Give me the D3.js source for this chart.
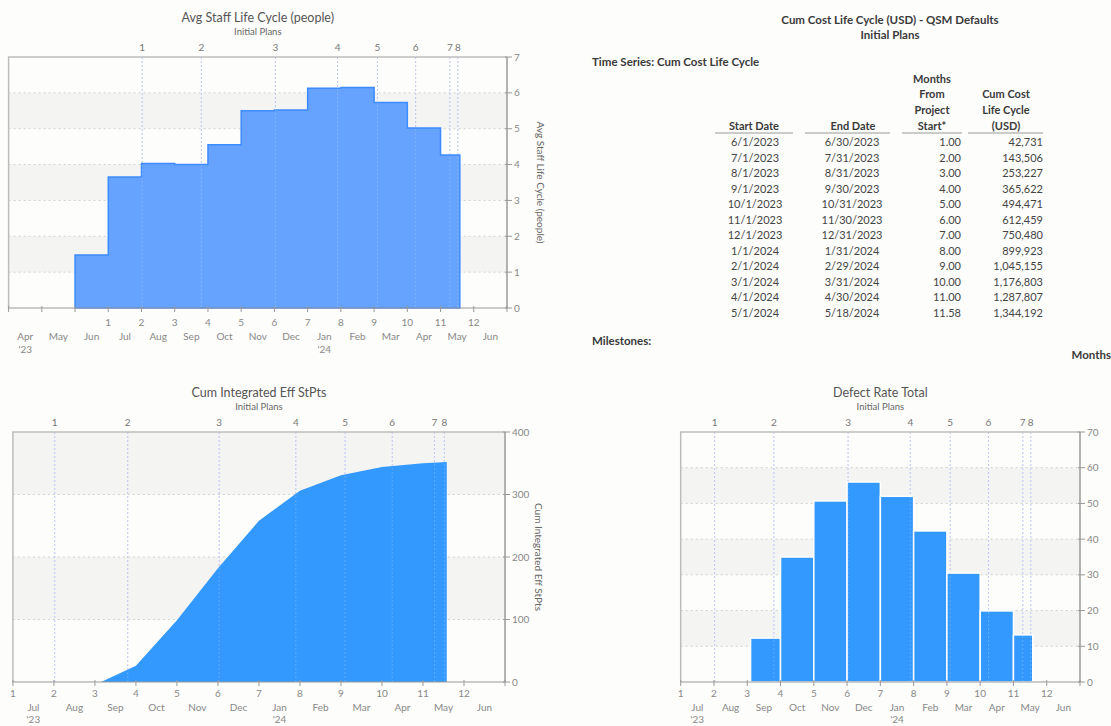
<!DOCTYPE html>
<html><head><meta charset="utf-8">
<script src="https://cdn.jsdelivr.net/npm/d3@7"></script>
<style>
html,body{margin:0;padding:0;background:#fdfdfb;}
svg{display:block;font-family:Lato,"Open Sans",sans-serif;}
</style></head><body>
<svg id="c" width="1111" height="726"></svg>
<script>
// ---------- data ----------
const milestones = [2.02, 3.8, 6.03, 7.9, 9.1, 10.25, 11.28, 11.52];
const milestoneLabels = ["1","2","3","4","5","6","7","8"];

const staffEnd = [1,2,3,4,5,6,7,8,9,10,11,11.58];
const staffValues = [1.48,3.65,4.03,4.0,4.55,5.5,5.52,6.13,6.15,5.73,5.02,4.27];

const effMonths = [3.15,4,5,6,7,8,9,10,11,11.58];
const effValues = [0,26,99,182,258,306,331,344,350,352];

const defectStart = [3.1,4,5,6,7,8,9,10,11];
const defectEnd = [4,5,6,7,8,9,10,11,11.58];
const defectValues = [12.3,35,50.7,56,52,42.3,30.5,19.9,13.2];

const monthsA = ["Apr","May","Jun","Jul","Aug","Sep","Oct","Nov","Dec","Jan","Feb","Mar","Apr","May","Jun"];
const monthsB = ["Jul","Aug","Sep","Oct","Nov","Dec","Jan","Feb","Mar","Apr","May","Jun"];

const startDates = ["6/1/2023","7/1/2023","8/1/2023","9/1/2023","10/1/2023","11/1/2023","12/1/2023","1/1/2024","2/1/2024","3/1/2024","4/1/2024","5/1/2024"];
const endDates = ["6/30/2023","7/31/2023","8/31/2023","9/30/2023","10/31/2023","11/30/2023","12/31/2023","1/31/2024","2/29/2024","3/31/2024","4/30/2024","5/18/2024"];
const monthsFromStart = ["1.00","2.00","3.00","4.00","5.00","6.00","7.00","8.00","9.00","10.00","11.00","11.58"];
const cumCost = ["42,731","143,506","253,227","365,622","494,471","612,459","750,480","899,923","1,045,155","1,176,803","1,287,807","1,344,192"];

// ---------- drawing ----------
const svg = d3.select("#c");
const AX = 10;

function panel(cfg){
  const g = svg.append("g");
  const x = d3.scaleLinear().domain(cfg.xDomain).range([cfg.left, cfg.right]);
  const y = d3.scaleLinear().domain(cfg.yDomain).range([cfg.bottom, cfg.top]);
  const yt = d3.range(cfg.yDomain[0], cfg.yDomain[1] + cfg.yStep/2, cfg.yStep);
  // bands
  for (let i = 1; i + 1 < yt.length; i += 2) {
    g.append("rect").attr("x", cfg.left).attr("width", cfg.right - cfg.left)
      .attr("y", y(yt[i+1])).attr("height", y(yt[i]) - y(yt[i+1]))
      .attr("fill", "#f4f4f2");
  }
  // grid
  g.selectAll(".gl").data(yt.slice(1, -1)).join("line")
    .attr("x1", cfg.left).attr("x2", cfg.right)
    .attr("y1", d => y(d)).attr("y2", d => y(d))
    .attr("stroke", "#d2d2d2").attr("stroke-dasharray", "2,3");
  // milestones
  g.selectAll(".ms").data(milestones).join("line")
    .attr("x1", d => x(d)).attr("x2", d => x(d))
    .attr("y1", cfg.top).attr("y2", cfg.bottom)
    .attr("stroke", "#c0c4f2").attr("stroke-dasharray", "2,2");
  // marks
  cfg.draw(g, x, y);
  // milestones over marks (faint)
  g.selectAll(".ms2").data(milestones).join("line")
    .attr("x1", d => x(d)).attr("x2", d => x(d))
    .attr("y1", cfg.top).attr("y2", cfg.bottom)
    .attr("stroke", "#c8d8ff").attr("stroke-opacity", 0.3).attr("stroke-dasharray", "2,2");
  g.selectAll(".mt").data(milestones).join("text")
    .attr("x", d => x(d)).attr("y", cfg.top - 6)
    .attr("text-anchor", "middle").attr("font-size", AX).attr("fill", "#777")
    .text((d, i) => milestoneLabels[i]);
  // frame
  g.append("path").attr("d", `M${cfg.left},${cfg.bottom}V${cfg.top}H${cfg.right}`)
    .attr("fill", "none").attr("stroke", "#bdbdbd").attr("stroke-width", 1.5);
  // bottom axis
  g.append("line").attr("x1", cfg.left).attr("x2", cfg.right)
    .attr("y1", cfg.bottom).attr("y2", cfg.bottom).attr("stroke", "#9a9a9a").attr("stroke-width", 1.2);
  const xt = d3.range(Math.ceil(cfg.xDomain[0]), cfg.xDomain[1] + 0.5, 1);
  g.selectAll(".xt").data(xt).join("line")
    .attr("x1", d => x(d)).attr("x2", d => x(d))
    .attr("y1", cfg.bottom - 2).attr("y2", cfg.bottom + 4).attr("stroke", "#9a9a9a");
  const [o1, o2, o3] = cfg.labelOffsets;
  g.selectAll(".xn").data(xt.filter(d => d >= 1 && d <= 12)).join("text")
    .attr("x", d => x(d)).attr("y", cfg.bottom + o1)
    .attr("text-anchor", "middle").attr("font-size", AX).attr("fill", "#888").text(d => d);
  g.selectAll(".xm").data(cfg.months).join("text")
    .attr("x", (d, i) => x(cfg.xDomain[0] + i + 0.5)).attr("y", cfg.bottom + o2)
    .attr("text-anchor", "middle").attr("font-size", AX).attr("fill", "#888").text(d => d);
  cfg.years.forEach(([i, t]) => {
    g.append("text").attr("x", x(cfg.xDomain[0] + i + 0.5)).attr("y", cfg.bottom + o3)
      .attr("text-anchor", "middle").attr("font-size", AX).attr("fill", "#888").text(t);
  });
  // right axis
  g.append("line").attr("x1", cfg.right).attr("x2", cfg.right)
    .attr("y1", cfg.top).attr("y2", cfg.bottom).attr("stroke", "#9a9a9a").attr("stroke-width", 1.5);
  g.selectAll(".yt").data(yt).join("line")
    .attr("x1", cfg.right - 2).attr("x2", cfg.right + 5)
    .attr("y1", d => y(d)).attr("y2", d => y(d)).attr("stroke", "#9a9a9a");
  g.selectAll(".yl").data(yt).join("text")
    .attr("x", cfg.right + 7).attr("y", d => y(d) + 3.5)
    .attr("font-size", AX).attr("fill", "#888").text(d => d);
  if (cfg.yTitle) {
    const cy = (cfg.top + cfg.bottom) / 2;
    g.append("text").attr("transform", `translate(${cfg.right + 30},${cy}) rotate(90)`)
      .attr("text-anchor", "middle").attr("font-size", 10).attr("fill", "#666").text(cfg.yTitle);
  }
  // titles
  const cx = (cfg.left + cfg.right) / 2;
  g.append("text").attr("x", cx).attr("y", cfg.top - 35).attr("text-anchor", "middle")
    .attr("font-size", 12.5).attr("fill", "#555").text(cfg.title);
  g.append("text").attr("x", cx).attr("y", cfg.top - 22).attr("text-anchor", "middle")
    .attr("font-size", 9.5).attr("fill", "#666").text("Initial Plans");
}

// Chart 1: Avg Staff
panel({
  left: 8.6, right: 507, top: 57, bottom: 308,
  xDomain: [-2, 13], yDomain: [0, 7], yStep: 1,
  months: monthsA, years: [[0, "'23"], [9, "'24"]], labelOffsets: [18, 32, 45],
  title: "Avg Staff Life Cycle (people)", yTitle: "Avg Staff Life Cycle (people)",
  draw: (g, x, y) => {
    const pts = staffValues.map((v, i) => [i === 0 ? 0 : staffEnd[i-1], v]);
    pts.push([staffEnd[staffEnd.length-1], staffValues[staffValues.length-1]]);
    const area = d3.area().curve(d3.curveStepAfter).x(d => x(d[0])).y0(y(0)).y1(d => y(d[1]));
    g.append("path").attr("d", area(pts)).attr("fill", "#66a3ff")
      .attr("stroke", "#3d8cff").attr("stroke-width", 1.5);
  }
});

// Chart 2: Cum Integrated Eff StPts
panel({
  left: 12.9, right: 505, top: 432, bottom: 682,
  xDomain: [1, 13], yDomain: [0, 400], yStep: 100,
  months: monthsB, years: [[0, "'23"], [6, "'24"]], labelOffsets: [15, 29, 41],
  title: "Cum Integrated Eff StPts", yTitle: "Cum Integrated Eff StPts",
  draw: (g, x, y) => {
    const pts = effMonths.map((m, i) => [m, effValues[i]]);
    const area = d3.area().x(d => x(d[0])).y0(y(0)).y1(d => y(d[1]));
    g.append("path").attr("d", area(pts)).attr("fill", "#3399ff");
  }
});

// Chart 3: Defect Rate Total
panel({
  left: 680.7, right: 1080, top: 432, bottom: 682,
  xDomain: [1, 13], yDomain: [0, 70], yStep: 10,
  months: monthsB, years: [[0, "'23"], [6, "'24"]], labelOffsets: [15, 29, 41],
  title: "Defect Rate Total", yTitle: null,
  draw: (g, x, y) => {
    g.selectAll(".bar").data(defectValues).join("rect")
      .attr("x", (d, i) => x(defectStart[i])).attr("width", (d, i) => x(defectEnd[i]) - x(defectStart[i]))
      .attr("y", d => y(d)).attr("height", d => y(0) - y(d))
      .attr("fill", "#3399ff").attr("stroke", "#ffffff").attr("stroke-width", 1.5);
  }
});

// ---------- table ----------
const t = svg.append("g").attr("fill", "#3a3a3a");
t.append("text").attr("x", 890).attr("y", 24).attr("text-anchor", "middle")
  .attr("font-size", 11.5).attr("font-weight", "bold").text("Cum Cost Life Cycle (USD) - QSM Defaults");
t.append("text").attr("x", 890).attr("y", 39).attr("text-anchor", "middle")
  .attr("font-size", 11.5).attr("font-weight", "bold").text("Initial Plans");
t.append("text").attr("x", 592).attr("y", 66)
  .attr("font-size", 11.5).attr("font-weight", "bold").text("Time Series: Cum Cost Life Cycle");

const hdr = [
  {cx: 754, lines: ["Start Date"], x1: 715, x2: 793},
  {cx: 853, lines: ["End Date"], x1: 805, x2: 890},
  {cx: 932, lines: ["Months", "From", "Project", "Start*"], x1: 902, x2: 962},
  {cx: 1006, lines: ["Cum Cost", "Life Cycle", "(USD)"], x1: 968, x2: 1043}
];
hdr.forEach(h => {
  const n = h.lines.length;
  h.lines.forEach((l, i) => {
    t.append("text").attr("x", h.cx).attr("y", 130 - (n - 1 - i) * 15.8).attr("text-anchor", "middle")
      .attr("font-size", 11).attr("font-weight", "bold").text(l);
  });
  t.append("line").attr("x1", h.x1).attr("x2", h.x2).attr("y1", 133).attr("y2", 133)
    .attr("stroke", "#999").attr("stroke-width", 1);
});
const rowY = d3.scaleLinear().domain([0, 11]).range([146, 317]);
const cols = [
  {data: startDates, x: 755, anchor: "middle"},
  {data: endDates, x: 852, anchor: "middle"},
  {data: monthsFromStart, x: 961, anchor: "end"},
  {data: cumCost, x: 1043, anchor: "end"}
];
cols.forEach(c => {
  t.selectAll(null).data(c.data).join("text")
    .attr("x", c.x).attr("y", (d, i) => rowY(i)).attr("text-anchor", c.anchor)
    .attr("font-size", 11).attr("fill", "#444").text(d => d);
});
t.append("text").attr("x", 592).attr("y", 345)
  .attr("font-size", 11.5).attr("font-weight", "bold").text("Milestones:");
t.append("text").attr("x", 1111).attr("y", 359).attr("text-anchor", "end")
  .attr("font-size", 11.5).attr("font-weight", "bold").text("Months");
</script>
</body></html>
